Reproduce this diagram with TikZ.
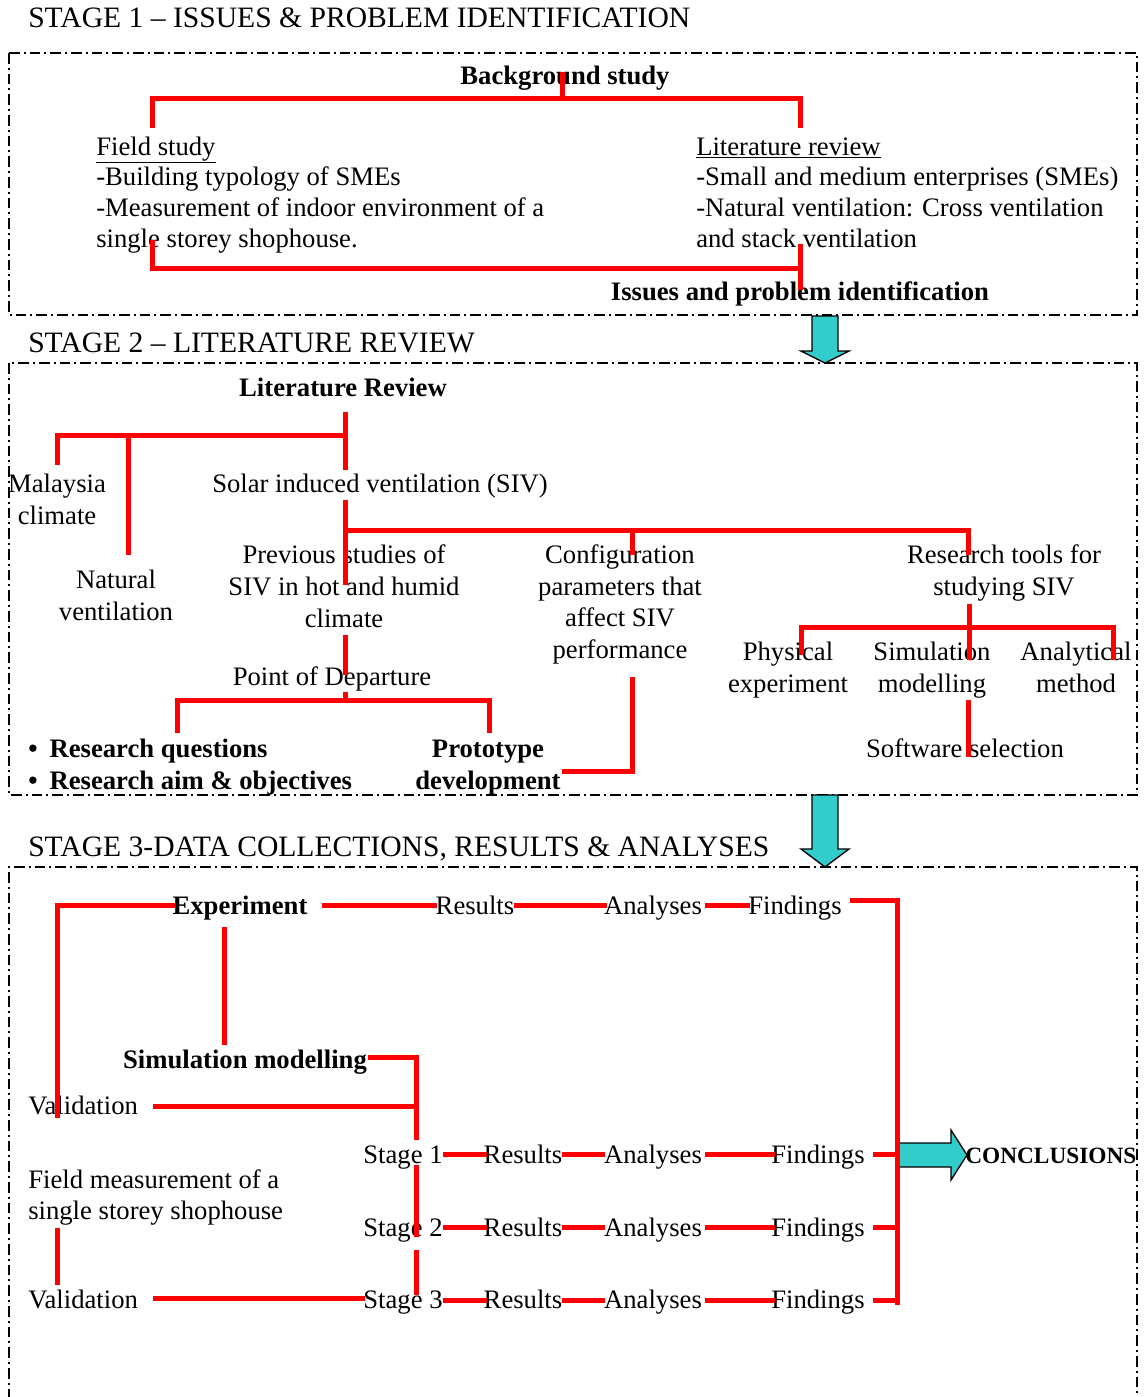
\documentclass[tikz,border=0pt]{standalone}
\usepackage{fontspec}
\setmainfont{Liberation Serif}
\definecolor{arrowcyan}{RGB}{51,204,204}
\tikzset{
  txt/.style={inner sep=0pt, anchor=base, font=\fontsize{20}{23.25}\selectfont},
  txtl/.style={txt, anchor=base west},
  bld/.style={font=\fontsize{20}{23.25}\selectfont\bfseries},
  stagetitle/.style={inner sep=0pt, anchor=base west, font=\fontsize{22.2}{25}\selectfont},
  link/.style={draw=red, line width=3.75pt},
  stagebox/.style={draw=black, line width=1.1pt, dash pattern=on 8pt off 3pt on 1.5pt off 3pt},
  flowarrow/.style={draw=black, line width=1pt, fill=arrowcyan, line join=miter}
}
\begin{document}
\begin{tikzpicture}[x=0.75pt,y=-0.75pt]
\useasboundingbox (0,0) rectangle (1148,1397);
% ---------------- boxes
\draw[stagebox] (9,53) rectangle (1137,315);
\draw[stagebox] (9,363) rectangle (1137,795);
\draw[stagebox] (9,1420) -- (9,867) -- (1137,867) -- (1137,1420);
% ---------------- stage titles
\node[stagetitle] (t1) at (28,27) {STAGE 1 – ISSUES \& PROBLEM IDENTIFICATION};
\node[stagetitle] (t2) at (28,352) {STAGE 2 – LITERATURE REVIEW};
\node[stagetitle] (t3) at (28,856) {STAGE 3-DATA COLLECTIONS, RESULTS \& ANALYSES};
% ---------------- stage 1
\node[txt,bld] (bg) at (565,84) {Background study};
\node[txtl] (fs1) at (96,155) {\underline{Field study}};
\node[txtl] (fs2) at (96,185) {-Building typology of SMEs};
\node[txtl] (fs3) at (96,216) {-Measurement of indoor environment of a};
\node[txtl] (fs4) at (96,247) {single storey shophouse.};
\node[txtl] (lr1) at (696,155) {\underline{Literature review}};
\node[txtl] (lr2) at (696,185) {-Small and medium enterprises (SMEs)};
\node[txtl] (lr3) at (696,216) {-Natural ventilation: Cross ventilation};
\node[txtl] (lr4) at (696,247) {and stack ventilation};
\node[txt,bld] (iss) at (800,300) {Issues and problem identification};
% ---------------- stage 2
\node[txt,bld] (litrev) at (343,396) {Literature Review};
\node[txt] (mal1) at (57,492) {Malaysia};
\node[txt] (mal2) at (57,524) {climate};
\node[txt] (nat1) at (116,588) {Natural};
\node[txt] (nat2) at (116,620) {ventilation};
\node[txt] (siv) at (380,492) {Solar induced ventilation (SIV)};
\node[txt] (prev1) at (344,563) {Previous studies of};
\node[txt] (prev2) at (344,595) {SIV in hot and humid};
\node[txt] (prev3) at (344,627) {climate};
\node[txt] (pod) at (332,685) {Point of Departure};
\node[txtl,bld] (rq) at (28,757) {•\hspace{9pt}Research questions};
\node[txtl,bld] (ra) at (28,789) {•\hspace{9pt}Research aim \& objectives};
\node[txt,bld] (proto1) at (488,757) {Prototype};
\node[txt,bld] (proto2) at (488,789) {development};
\node[txt] (cfg1) at (620,563) {Configuration};
\node[txt] (cfg2) at (620,595) {parameters that};
\node[txt] (cfg3) at (620,626) {affect SIV};
\node[txt] (cfg4) at (620,658) {performance};
\node[txt] (rt1) at (1004,563) {Research tools for};
\node[txt] (rt2) at (1004,595) {studying SIV};
\node[txt] (phy1) at (788,660) {Physical};
\node[txt] (phy2) at (788,692) {experiment};
\node[txt] (sim1) at (932,660) {Simulation};
\node[txt] (sim2) at (932,692) {modelling};
\node[txt] (ana1) at (1076,660) {Analytical};
\node[txt] (ana2) at (1076,692) {method};
\node[txt] (soft) at (965,757) {Software selection};
% ---------------- stage 3
\node[txt,bld] (exp) at (240,914) {Experiment};
\node[txt] (res0) at (475,914) {Results};
\node[txt] (anl0) at (653,914) {Analyses};
\node[txt] (fnd0) at (795,914) {Findings};
\node[txt,bld] (simm) at (245,1068) {Simulation modelling};
\node[txtl] (val1) at (28,1114) {Validation};
\node[txtl] (fm1) at (28,1188) {Field measurement of a};
\node[txtl] (fm2) at (28,1219) {single storey shophouse};
\node[txtl] (val2) at (28,1308) {Validation};
\node[txt] (st1) at (403,1163) {Stage 1};
\node[txt] (res1) at (523,1163) {Results};
\node[txt] (anl1) at (653,1163) {Analyses};
\node[txt] (fnd1) at (818,1163) {Findings};
\node[txt] (st2) at (403,1236) {Stage 2};
\node[txt] (res2) at (523,1236) {Results};
\node[txt] (anl2) at (653,1236) {Analyses};
\node[txt] (fnd2) at (818,1236) {Findings};
\node[txt] (st3) at (403,1308) {Stage 3};
\node[txt] (res3) at (523,1308) {Results};
\node[txt] (anl3) at (653,1308) {Analyses};
\node[txt] (fnd3) at (818,1308) {Findings};
\node[txtl,font=\fontsize{17.5}{20}\selectfont\bfseries] (concl) at (965,1163) {CONCLUSIONS};
% ---------------- arrows
\draw[flowarrow] (812,316) -- (838,316) -- (838,351) -- (849,351) -- (825,363) -- (801,351) -- (812,351) -- cycle;
\draw[flowarrow] (812,795) -- (838,795) -- (838,849) -- (849,849) -- (825,867) -- (801,849) -- (812,849) -- cycle;
\draw[flowarrow] (897,1143) -- (951,1143) -- (951,1130) -- (967,1155) -- (951,1180) -- (951,1167) -- (897,1167) -- cycle;
% ---------------- red connectors, stage 1
\draw[link] (562,72) -- (562,98);
\draw[link] (152,128) -- (152,98) -- (800,98) -- (800,128);
\draw[link] (152,240) -- (152,268) -- (800,268);
\draw[link] (800,244) -- (800,290);
% ---------------- red connectors, stage 2
\draw[link] (345,412) -- (345,470);
\draw[link] (57,465) -- (57,435) -- (345,435);
\draw[link] (128,435) -- (128,555);
\draw[link] (345,500) -- (345,585);
\draw[link] (345,530) -- (968,530) -- (968,555);
\draw[link] (632,530) -- (632,555);
\draw[link] (345,635) -- (345,675);
\draw[link] (345,692) -- (345,700);
\draw[link] (177,733) -- (177,700) -- (489,700) -- (489,733);
\draw[link] (632,677) -- (632,771) -- (562,771);
\draw[link] (969,604) -- (969,660);
\draw[link] (801,655) -- (801,627) -- (1113,627) -- (1113,660);
\draw[link] (968,700) -- (968,757);
% ---------------- red connectors, stage 3
\draw[link] (57,1118) -- (57,905) -- (175,905);
\draw[link] (322,905) -- (437,905);
\draw[link] (514,905) -- (607,905);
\draw[link] (705,905) -- (750,905);
\draw[link] (850,900) -- (897,900) -- (897,1305);
\draw[link] (224,927) -- (224,1045);
\draw[link] (368,1057) -- (416,1057) -- (416,1140);
\draw[link] (153,1106) -- (416,1106);
\draw[link] (416,1165) -- (416,1237);
\draw[link] (416,1250) -- (416,1295);
\foreach \yy in {1154,1227,1300}{
  \draw[link] (443,\yy) -- (487,\yy);
  \draw[link] (562,\yy) -- (605,\yy);
  \draw[link] (705,\yy) -- (775,\yy);
  \draw[link] (873,\yy) -- (897,\yy);
}
\draw[link] (57,1228) -- (57,1285);
\draw[link] (153,1298) -- (365,1298);
\end{tikzpicture}
\end{document}
